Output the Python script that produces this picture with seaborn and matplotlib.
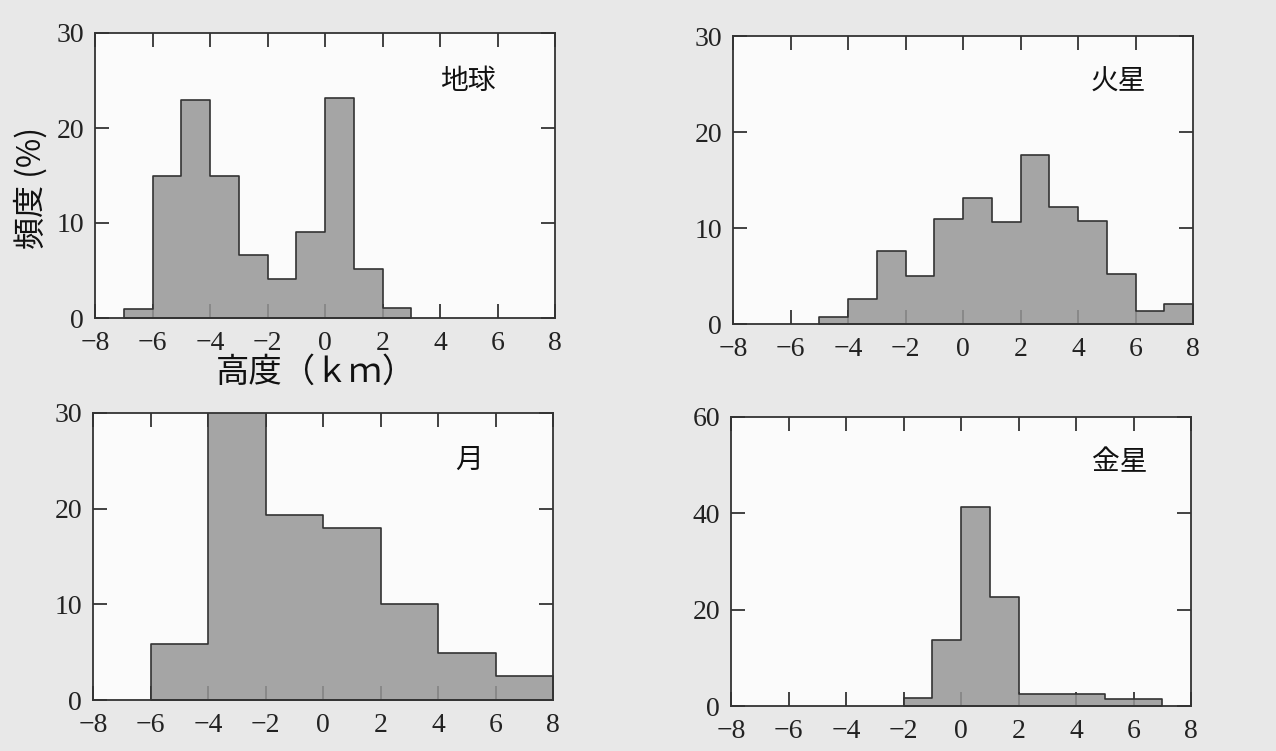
import numpy as np
import pandas as pd
import seaborn as sns
import matplotlib.pyplot as plt

# bin edges (km) and frequency (%)
earth_edges = [-7, -6, -5, -4, -3, -2, -1, 0, 1, 2, 3]
earth_pct = [1.0, 15.0, 23.0, 15.0, 6.6, 4.1, 9.1, 23.2, 5.2, 1.1]

mars_edges = [-5, -4, -3, -2, -1, 0, 1, 2, 3, 4, 5, 6, 7, 8]
mars_pct = [0.7, 2.6, 7.6, 5.0, 10.9, 13.1, 10.6, 17.6, 12.2, 10.7, 5.2, 1.4, 2.1]

moon_edges = [-6, -4, -2, 0, 2, 4, 6, 8]
moon_pct = [5.9, 32.0, 19.3, 18.0, 10.0, 4.9, 2.5]

venus_edges = [-2, -1, 0, 1, 2, 3, 4, 5, 6, 7]
venus_pct = [1.7, 13.6, 41.4, 22.6, 2.4, 2.4, 2.4, 1.4, 1.4]

panels = [
    ("地球", earth_edges, earth_pct, 30, [0, 10, 20, 30], (0.81, 0.83)),
    ("火星", mars_edges, mars_pct, 30, [0, 10, 20, 30], (0.837, 0.84)),
    ("月", moon_edges, moon_pct, 30, [0, 10, 20, 30], (0.817, 0.836)),
    ("金星", venus_edges, venus_pct, 60, [0, 20, 40, 60], (0.846, 0.845)),
]
xticks = [-8, -6, -4, -2, 0, 2, 4, 6, 8]

sns.set_style("ticks")
plt.rcParams['font.family'] = ['Liberation Serif', 'Noto Sans CJK JP']
cjk = ['Noto Sans CJK JP', 'DejaVu Sans']

fig = plt.figure(figsize=(12.76, 7.51), dpi=100)
fig.patch.set_facecolor('#e8e8e8')

W, H = 1276, 751
# axes boxes in pixels: left, top, right, bottom
boxes = [(95, 33, 555, 318), (733, 36, 1193, 324),
         (93, 413, 553, 700), (731, 417, 1191, 706)]

for (name, edges, pct, ymax, yt, pos), (l, t, r, b) in zip(panels, boxes):
    ax = fig.add_axes([l / W, 1 - b / H, (r - l) / W, (b - t) / H])
    ax.set_facecolor('#fbfbfb')
    e = np.array(edges, dtype=float)
    df = pd.DataFrame({"h": (e[:-1] + e[1:]) / 2, "w": pct})
    sns.histplot(data=df, x="h", weights="w", bins=edges, element="step",
                 fill=True, color='#969696', alpha=0.85, edgecolor='#333333',
                 linewidth=1.2, ax=ax)
    ax.set_xlim(-8, 8)
    ax.set_ylim(0, ymax)
    ax.set_xticks(xticks)
    ax.set_xticklabels([f"\u2212{abs(v)}" if v < 0 else str(v) for v in xticks])
    ax.set_yticks(yt)
    ax.tick_params(direction='in', top=True, right=True, length=10, width=1.2,
                   labelsize=20, colors='#222222')
    ax.tick_params(axis='x', pad=9)
    ax.tick_params(axis='y', pad=8)
    ax.set_xlabel("")
    ax.set_ylabel("")
    for s in ax.spines.values():
        s.set_linewidth(1.3)
        s.set_color('#333333')
    ax.text(pos[0], pos[1], name, transform=ax.transAxes, fontsize=20,
            family=cjk, ha='center', va='center', color='#111111')

fig.text(31 / W, 1 - 188 / H, "頻度 (%)", rotation=90, fontsize=23,
         family=cjk, ha='center', va='center', color='#111111')
fig.text(316 / W, 1 - 372 / H, "高度（ｋｍ）", fontsize=24,
         family=cjk, ha='center', va='center', color='#111111')

fig.savefig("out.png", dpi=100, facecolor=fig.get_facecolor())
